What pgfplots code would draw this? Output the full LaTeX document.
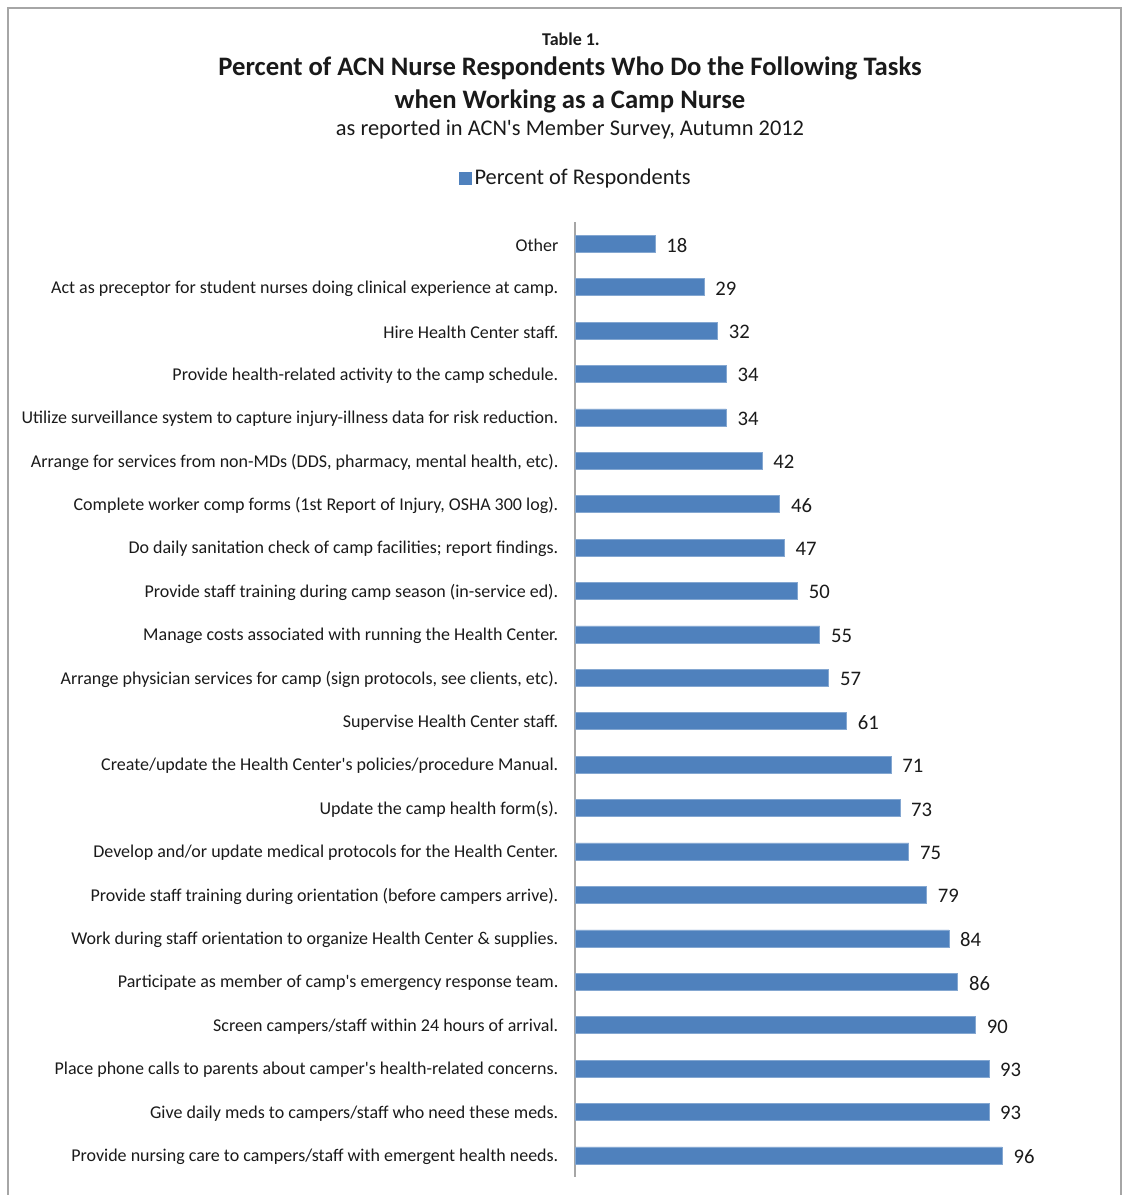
\documentclass[border=0pt]{standalone}
\usepackage{pgfplots}
\pgfplotsset{compat=1.18}
\usepackage{fontspec}
\setmainfont{Carlito}[Ligatures=TeXOff]
\definecolor{barblue}{HTML}{4F81BD}
\definecolor{txt}{HTML}{1A1A1A}
\definecolor{frame}{HTML}{A6A6A6}
\begin{document}
\begin{tikzpicture}
\useasboundingbox (0,0) rectangle (842.25pt,-896.25pt);
\begin{scope}[x=0.75pt,y=-0.75pt]
\draw[frame,line width=1.5pt] (8,1200) -- (8,8) -- (1121,8) -- (1121,1200);
\node[font=\fontsize{13.5}{15}\selectfont\bfseries,text=txt] at (571,39) {Table 1.};
\node[font=\fontsize{20}{23}\selectfont\bfseries,text=txt] at (570,68) {Percent of ACN Nurse Respondents Who Do the Following Tasks};
\node[font=\fontsize{20}{23}\selectfont\bfseries,text=txt] at (570,101) {when Working as a Camp Nurse};
\node[font=\fontsize{16.8}{19}\selectfont,text=txt] at (570,130) {as reported in ACN's Member Survey, Autumn 2012};
\end{scope}
\begin{axis}[
  at={(431.25pt,-882.75pt)}, anchor=south west,
  scale only axis, width=333.75pt, height=716.25pt,
  xbar, bar width=12.75pt,
  xmin=0, xmax=100, ymin=-0.5, ymax=21.5,
  y dir=reverse,
  axis x line=none,
  axis y line*=left,
  y axis line style={draw=frame, line width=1pt, -},
  ytick=data,
  major tick length=0pt,
  /pgf/number format/assume math mode=true,
  yticklabels={Other,
    Act as preceptor for student nurses doing clinical experience at camp.,
    Hire Health Center staff.,
    Provide health-related activity to the camp schedule.,
    Utilize surveillance system to capture injury-illness data for risk reduction.,
    {Arrange for services from non-MDs (DDS, pharmacy, mental health, etc).},
    {Complete worker comp forms (1st Report of Injury, OSHA 300 log).},
    Do daily sanitation check of camp facilities; report findings.,
    Provide staff training during camp season (in-service ed).,
    Manage costs associated with running the Health Center.,
    {Arrange physician services for camp (sign protocols, see clients, etc).},
    Supervise Health Center staff.,
    Create/update the Health Center's policies/procedure Manual.,
    Update the camp health form(s).,
    Develop and/or update medical protocols for the Health Center.,
    Provide staff training during orientation (before campers arrive).,
    Work during staff orientation to organize Health Center \& supplies.,
    Participate as member of camp's emergency response team.,
    Screen campers/staff within 24 hours of arrival.,
    Place phone calls to parents about camper's health-related concerns.,
    Give daily meds to campers/staff who need these meds.,
    Provide nursing care to campers/staff with emergent health needs.},
  yticklabel style={font=\fontsize{13.5}{15}\selectfont, text=txt, xshift=-9pt, yshift=-1pt},
  nodes near coords,
  nodes near coords style={font=\fontsize{15.5}{18}\selectfont, text=txt, anchor=west, xshift=5pt, yshift=-1pt},
  legend style={at={(axis description cs:0.003,1.046)}, anchor=center, draw=none,
    font=\fontsize{16.8}{19}\selectfont, text=txt, inner sep=0pt,
    /tikz/every even column/.append style={column sep=4pt}},
  legend image code/.code={\fill[barblue] (0pt,-4.5pt) rectangle (9pt,4.5pt);},
  clip=false,
]
\addplot[fill=barblue, draw=barblue!70!white, line width=0.4pt] coordinates {
(18,0) (29,1) (32,2) (34,3) (34,4) (42,5) (46,6) (47,7) (50,8) (55,9) (57,10)
(61,11) (71,12) (73,13) (75,14) (79,15) (84,16) (86,17) (90,18) (93,19) (93,20) (96,21)};
\addlegendentry{Percent of Respondents}
\end{axis}
\end{tikzpicture}
\end{document}
